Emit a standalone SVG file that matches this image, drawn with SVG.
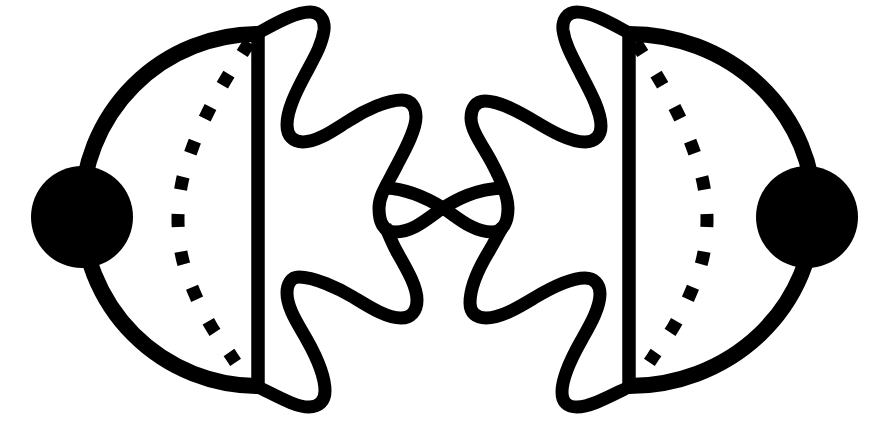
<svg xmlns="http://www.w3.org/2000/svg" width="883" height="441" viewBox="0 0 883 441">
<style>
.line{fill:none;stroke:#000;stroke-width:16}
.bar{fill:none;stroke:#000;stroke-width:13.5}
.wave{fill:none;stroke:#000;stroke-width:13}
.dots{fill:none;stroke:#000;stroke-width:13;stroke-dasharray:13 24.6}
</style>
<defs>
<path id="dotted" class="dots" d="M249.2 42.5L245.7 48C239.2 58.2 232.28 68.33 226 79C219.72 89.67 213.5 100.83 208 112C202.5 123.17 197.33 134.33 193 146C188.67 157.67 184.5 169.83 182 182C179.5 194.17 178 206.5 178 219C178 231.5 179.33 244.83 182 257C184.67 269.17 189.17 280.5 194 292C198.83 303.5 204.67 315.17 211 326C217.33 336.83 225 346.5 232 357L235.6 362.4"/>
</defs>
<rect width="883" height="441" fill="#fff"/>
<g id="connectors">
<path class="line" d="M258 34A176 176 0 0 0 258 386"/>
<path class="bar" d="M258 34V386"/>
<use href="#dotted"/>
<path class="line" d="M629 34A185 176 0 0 1 629 386"/>
<path class="bar" d="M629 34V386"/>
<use href="#dotted" transform="translate(885 0) scale(-1 1)"/>
<path class="wave" d="M256 34C275 24 295 12 310 12C320 12 325 20 324 30C322 45 314 58 305 75C296 92 287 110 287 125C287 136 293 142 303 142C318 142 335 129 350 120C365 110 387 100 402 100C411 100 416 107 416 117C416 130 405 150 397 165C388 183 379 195 379 208C379 222 383 232 395 232C415 232 430 216 443 208C456 200 475 189 503 188"/>
<path class="wave" d="M631 34C612 24 592 12 577 12C567 12 562 20 563 30C565 45 573 58 582 76C591 93 601 112 601 126C601 136 595 142 585 142C570 142 551 131 536 122C521 113 500 101 485 101C476 101 471 108 471 118C471 131 483 146 492 163C500 178 508 195 508 208C508 222 503 232 492 232C472 232 456 216 443 208C430 200 410 189 386 188"/>
<path class="wave" d="M385 226C389 235 392 243 397 252C406 268 417 286 417 300C417 311 411 318 401 318C386 318 368 306 353 297C338 288 314 277 299 277C291 277 287 284 287 293C287 308 298 324 307 340C316 356 325 376 325 391C325 401 319 407 309 407C295 407 277 396 256 386"/>
<path class="wave" d="M503 226C498 235 494 243 488 253C479 268 470 288 470 303C470 313 476 318 486 318C501 318 519 307 534 298C549 289 570 278 585 278C594 278 600 284 600 294C600 308 590 325 581 341C572 357 562 377 562 392C562 402 567 407 577 407C591 407 610 396 631 386"/>
</g>
<g id="left-node"><circle cx="82" cy="217" r="51"/></g>
<g id="right-node"><circle cx="807" cy="217" r="51"/></g>
</svg>
